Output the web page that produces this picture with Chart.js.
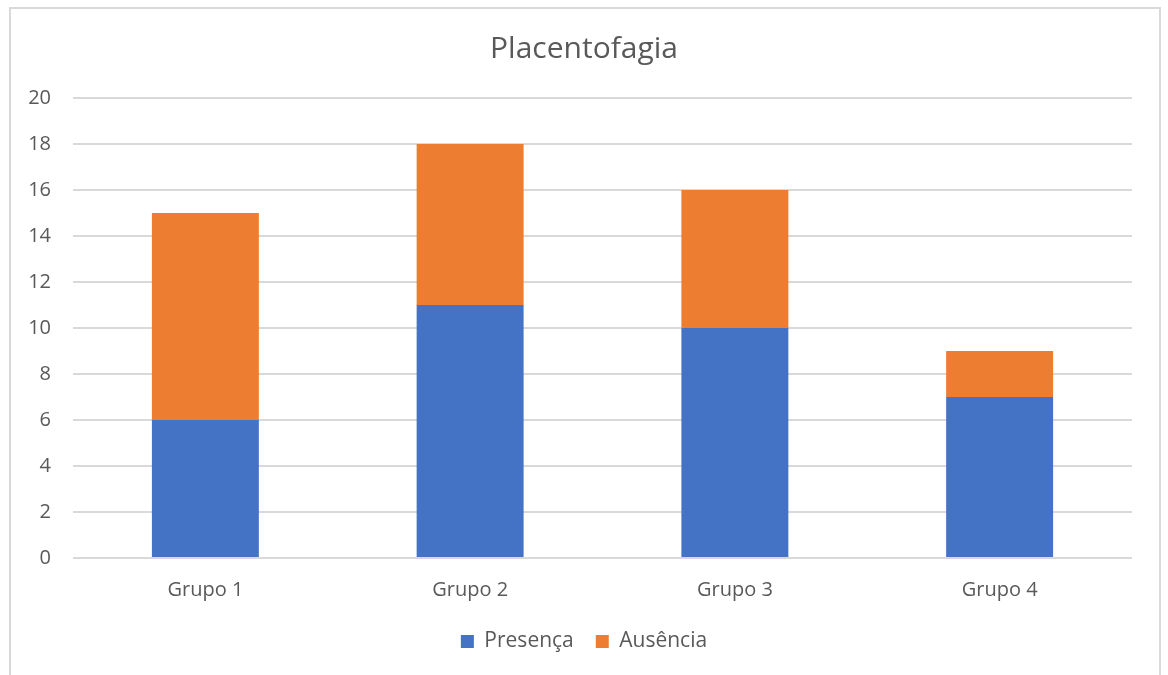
<!DOCTYPE html>
<html>
<head>
<meta charset="utf-8">
<script src="https://cdn.jsdelivr.net/npm/chart.js@4/dist/chart.umd.min.js"></script>
<style>
  html, body { margin: 0; padding: 0; background: #ffffff; }
  body { width: 1168px; height: 675px; position: relative; overflow: hidden; }
  #frame {
    position: absolute; left: 9px; top: 7px; width: 1148px; height: 700px;
    border: 2px solid #d9d9d9; box-sizing: content-box;
  }
  #wrap { position: absolute; left: 0; top: 0; width: 1168px; height: 675px; }
</style>
</head>
<body>
<div id="frame"></div>
<div id="wrap"><canvas id="chart" width="1168" height="675"></canvas></div>
<script>
const categories = ['Grupo 1', 'Grupo 2', 'Grupo 3', 'Grupo 4'];
const presenca = [6, 11, 10, 7];
const ausencia = [9, 7, 6, 2];
const yTicks = [0, 2, 4, 6, 8, 10, 12, 14, 16, 18, 20];

const textColor = '#595959';
const gridColor = '#d9d9d9';
const baseFont = "'Open Sans', 'DejaVu Sans', sans-serif";

new Chart(document.getElementById('chart'), {
  type: 'bar',
  data: {
    labels: categories,
    datasets: [
      { label: 'Presença', data: presenca, backgroundColor: '#4472c4', borderWidth: 0 },
      { label: 'Ausência', data: ausencia, backgroundColor: '#ed7d31', borderWidth: 0 }
    ]
  },
  options: {
    responsive: false,
    animation: false,
    devicePixelRatio: 1,
    layout: { padding: { left: 0, right: 0, top: 0, bottom: 13 } },
    datasets: { bar: { categoryPercentage: 1.0, barPercentage: 0.404 } },
    plugins: {
      title: {
        display: true,
        text: 'Placentofagia',
        color: textColor,
        font: { family: baseFont, size: 30, weight: '400' },
        padding: { top: 31, bottom: 31 }
      },
      legend: {
        position: 'bottom',
        labels: {
          color: textColor,
          font: { family: baseFont, size: 21 },
          boxWidth: 13,
          boxHeight: 13,
          padding: 22
        }
      },
      tooltip: { enabled: false }
    },
    scales: {
      x: {
        stacked: true,
        grid: { display: false, drawTicks: false },
        border: { display: false },
        ticks: { color: textColor, font: { family: baseFont, size: 20 }, padding: 20 },
        afterFit: (scale) => { scale.height = 51; }
      },
      y: {
        stacked: true,
        min: 0,
        max: 20,
        afterBuildTicks: (scale) => { scale.ticks = yTicks.map(v => ({ value: v })); },
        grid: { color: gridColor, lineWidth: 2, drawTicks: false },
        border: { display: false },
        ticks: { color: textColor, font: { family: baseFont, size: 20 }, padding: 22 },
        afterFit: (scale) => { scale.width = 73; }
      },
      // empty margin on the right of the plot so title and legend stay centred on the canvas
      yRight: {
        position: 'right',
        display: true,
        grid: { display: false, drawTicks: false },
        border: { display: false },
        ticks: { display: false },
        afterFit: (scale) => { scale.width = 36; }
      }
    }
  }
});
</script>
</body>
</html>
